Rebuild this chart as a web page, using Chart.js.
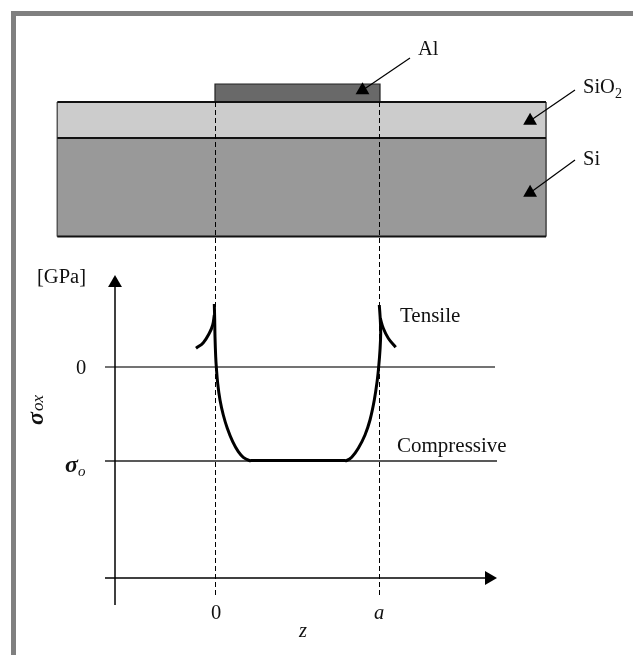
<!DOCTYPE html>
<html>
<head>
<meta charset="utf-8">
<script src="https://cdn.jsdelivr.net/npm/chart.js@4"></script>
<style>
    html, body { margin: 0; padding: 0; background: #fff; overflow: hidden; }
    #frame { position: absolute; left: 11px; top: 11px; right: 0; bottom: 0; border-top: 5px solid #808080; border-left: 5px solid #808080; }
    #wrap { position: absolute; left: 0; top: 0; width: 633px; height: 655px; }
</style>
</head>
<body>
<div id="frame"></div>
<div id="wrap"><canvas id="stressChart"></canvas></div>
<script>
// Schematic axes: z runs 0..a, stress runs 0..sigma_o
const zTicks = [0, 163];
const zTickLabels = ['0', 'a'];
const stressTicks = [0, -94];
const stressTickLabels = ['0', 'σ'];

// Stress curve across the line
const curveZ = [-1.7, -1.3, -1, -0.3, 0.3, 1.7, 4, 7.3, 11.3, 16.7, 22.3, 27.3, 33.3, 36, 40, 80, 124, 128, 130.7, 135.7, 142.3, 149, 154, 158.3, 161.3, 162.7, 164, 164.7, 164.3, 163.3];
const curveStress = [63, 47, 30.3, 10.3, 0.3, -16.3, -33, -48, -61.3, -74.7, -84.7, -90.3, -93.5, -93.5, -93.5, -93.5, -93.5, -93.5, -93.5, -90.3, -81.3, -68, -53, -33, -13, 0.3, 17, 33.7, 47, 62];
// Short tensile hooks outside the line
const hookLeftZ = [-20, -12.7, -6.7, -3.3, -1.7];
const hookLeftStress = [18.7, 24.3, 33.7, 42, 52];
const hookRightZ = [164.3, 167.3, 172.3, 179.7];
const hookRightStress = [48.7, 38.7, 28.7, 19.7];

// Layer stack, same axes as the curve
const layerEdges = [-158.7, 330];
const metalEdges = [-1, 164];
const metalTop = 283;
const oxideTop = 265;
const siliconTop = 229;
const siliconBottom = 130.5;

function pts(xs, ys) {
    return xs.map((x, i) => ({ x: x, y: ys[i] }));
}

function band(xs, top, bottom, color) {
    return { data: pts(xs, [top, top]), borderWidth: 0, borderColor: color, backgroundColor: color, fill: { value: bottom }, pointRadius: 0 };
}

function stroke(xs, ys, width, color, extra) {
    return Object.assign({ data: pts(xs, ys), borderWidth: width, borderColor: color, backgroundColor: color, pointRadius: 0, fill: false }, extra || {});
}

// Leader line ending in a filled head
function leader(xs, ys, rotation, width, size) {
    return stroke(xs, ys, width, '#000', { pointStyle: 'triangle', pointRadius: [0, size], pointRotation: rotation, pointBackgroundColor: '#000', pointBorderColor: '#000', pointBorderWidth: 0 });
}

const [leftEdge, rightEdge] = layerEdges;
const [metalLeft, metalRight] = metalEdges;

const datasets = [
    band(metalEdges, metalTop, oxideTop, '#696969'),
    band(layerEdges, oxideTop, siliconTop, '#cccccc'),
    band(layerEdges, siliconTop, siliconBottom, '#999999'),
    stroke([metalLeft, metalLeft, metalRight, metalRight], [oxideTop, metalTop, metalTop, oxideTop], 1.2, '#222'),
    stroke([leftEdge, leftEdge], [oxideTop, siliconBottom], 1, '#555'),
    stroke([rightEdge, rightEdge], [oxideTop, siliconBottom], 1, '#555'),
    stroke(layerEdges, [oxideTop, oxideTop], 2, '#111'),
    stroke(layerEdges, [siliconTop, siliconTop], 2, '#111'),
    stroke(layerEdges, [siliconBottom, siliconBottom], 2, '#111'),
    // Stress reference lines
    stroke([-111, 279], [0, 0], 1.5, '#444'),
    stroke([-111, 281], [-94, -94], 1.5, '#222'),
    // Axes with arrow heads
    leader([-101, -101], [-238, 84], 0, 1.5, 8),
    leader([-111, 273], [-211, -211], 90, 1.5, 8),
    // Dashed projections
    stroke([-0.5, -0.5], [265, -230], 1, '#000', { borderDash: [5, 3] }),
    stroke([163.5, 163.5], [265, -230], 1, '#000', { borderDash: [5, 3] }),
    // Layer leaders
    leader([194, 146.5], [309, 276.7], -120, 1.2, 8),
    leader([359, 314.1], [277, 246.2], -120, 1.2, 8),
    leader([359, 314.1], [207, 174.2], -120, 1.2, 8),
    // Stress curve
    stroke(curveZ, curveStress, 3, '#000', { tension: 0.4 }),
    stroke(hookLeftZ, hookLeftStress, 3, '#000', { tension: 0.4 }),
    stroke(hookRightZ, hookRightStress, 3, '#000', { tension: 0.4 })
];
// Later entries paint on top
datasets.forEach((d, i) => { d.order = datasets.length - i; });

const serif = "'Liberation Serif', serif";
const textFont = '20.5px ' + serif;
const wideFont = '21px ' + serif;
const subFont = '14px ' + serif;
const greekFont = 'italic bold 24px ' + serif;

const freeLabels = [
    { text: 'Al', z: 202, s: 312, font: textFont },
    { text: 'SiO', z: 367, s: 274, font: textFont },
    { text: '2', z: 399, s: 269, font: subFont },
    { text: 'Si', z: 367, s: 202, font: textFont },
    { text: 'Tensile', z: 184, s: 45, font: wideFont },
    { text: 'Compressive', z: 181, s: -85, font: wideFont },
    { text: '[GPa]', z: -179, s: 84, font: textFont },
    { text: 'o', z: -138, s: -109, font: 'italic 15px ' + serif },
    { text: 'z', z: 83, s: -270, font: 'italic 20.5px ' + serif }
];

const labelPlugin = {
    id: 'labelPlugin',
    afterDraw(chart) {
        const { ctx, scales } = chart;
        const px = v => scales.x.getPixelForValue(v);
        const py = v => scales.y.getPixelForValue(v);
        ctx.save();
        ctx.fillStyle = '#111';
        ctx.textBaseline = 'alphabetic';
        freeLabels.forEach(l => {
            ctx.font = l.font;
            ctx.fillText(l.text, px(l.z), py(l.s));
        });
        // Tick labels along z
        ctx.textAlign = 'center';
        zTicks.forEach((v, i) => {
            ctx.font = (i === 1 ? 'italic ' : '') + textFont;
            ctx.fillText(zTickLabels[i], px(v), py(-252));
        });
        // Tick labels along stress
        ctx.textAlign = 'left';
        ctx.font = textFont;
        ctx.fillText(stressTickLabels[0], px(-140), py(stressTicks[0] - 7));
        ctx.font = greekFont;
        ctx.fillText(stressTickLabels[1], px(-151), py(stressTicks[1] - 11));
        // Rotated y axis title
        ctx.translate(px(-173), py(-58));
        ctx.rotate(-Math.PI / 2);
        ctx.font = greekFont;
        ctx.fillText('σ', 0, 0);
        ctx.font = 'italic 17px ' + serif;
        ctx.fillText('ox', 14, 0);
        ctx.restore();
    }
};

new Chart(document.getElementById('stressChart'), {
    type: 'scatter',
    data: { datasets: datasets },
    plugins: [labelPlugin],
    options: {
        responsive: true,
        maintainAspectRatio: false,
        animation: false,
        showLine: true,
        layout: { padding: 0, autoPadding: false },
        plugins: { legend: { display: false }, tooltip: { enabled: false } },
        scales: {
            x: { type: 'linear', min: -216, max: 417, display: false },
            y: { type: 'linear', min: -288, max: 367, display: false }
        }
    }
});
</script>
</body>
</html>
